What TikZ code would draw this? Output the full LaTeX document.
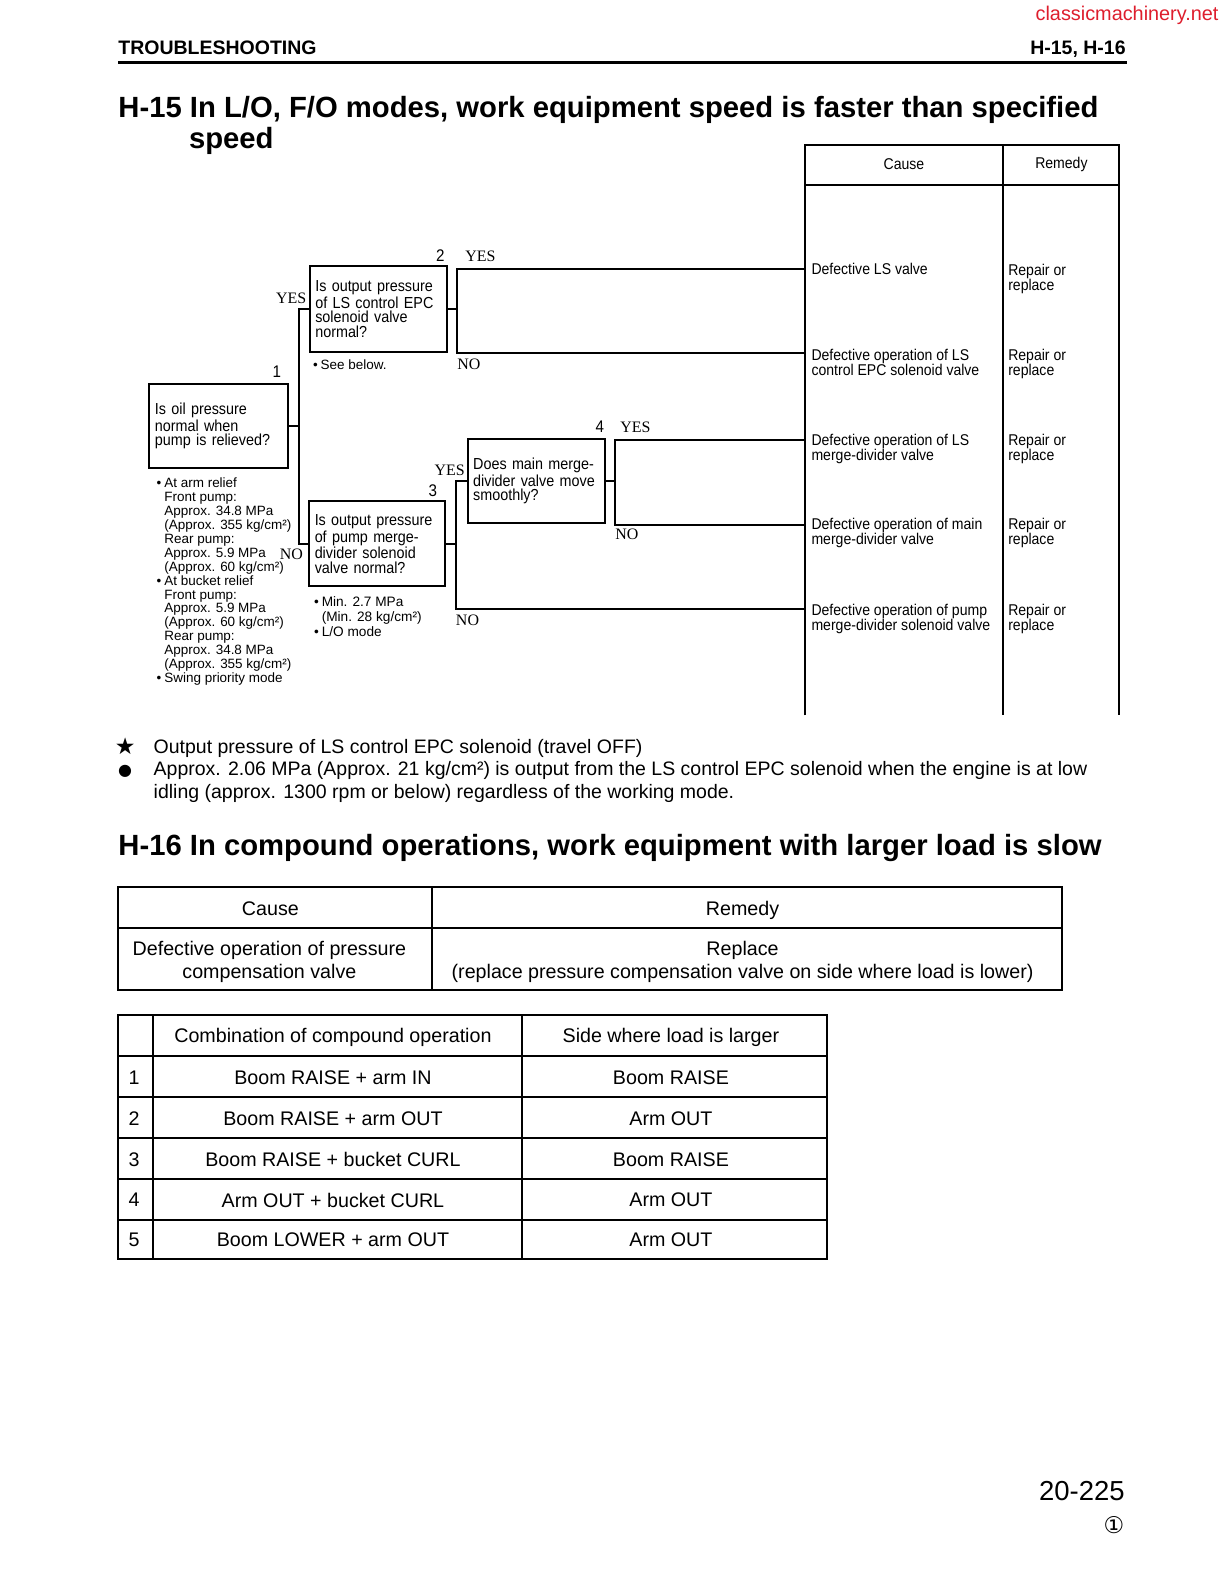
\documentclass[tikz,border=0pt]{standalone}
\usepackage{fontspec}
\setmainfont{Liberation Sans}
\newfontfamily\ynfont{Liberation Serif}
\newfontfamily\flowfont[FakeStretch=0.9]{Liberation Sans}
\newfontfamily\symfont{DejaVu Sans}
\definecolor{sitered}{RGB}{222,30,45}

\newcommand{\qbul}{\makebox[4.3pt][l]{\textbullet}}
\newcommand{\qind}{\hspace*{4.3pt}}

\tikzset{
  qbox/.style={draw, line width=1.1pt, inner xsep=0.11cm, inner ysep=0pt, align=left,
    font=\flowfont\fontsize{9}{8.1}\selectfont},
  yn/.style={font=\ynfont\fontsize{9}{9}\selectfont, inner sep=0pt},
  qnum/.style={font=\flowfont\fontsize{9.5}{9.5}\selectfont, inner sep=0pt, anchor=base east},
  qnote/.style={font=\fontsize{7.6}{7.86}\selectfont, align=left, inner sep=0pt, anchor=base west},
  cause/.style={font=\flowfont\fontsize{8.8}{8.5}\selectfont, align=left, inner sep=0pt, anchor=base west},
  link/.style={line width=1.2pt},
  rule/.style={line width=1.1pt},
  cell/.style={font=\fontsize{11.1}{13}\selectfont, align=center, inner sep=0pt},
}

\begin{document}
\begin{tikzpicture}[x=0.02cm, y=-0.02cm]
    \path[fill=white, use as bounding box] (0,0) rectangle (1217,1568);

    % Page header
    \node[anchor=base east, text=sitered, font=\fontsize{11.2}{12}\selectfont, inner sep=0pt] (site) at (1208,20) {classicmachinery.net};
    \node[anchor=base west, font=\bfseries\fontsize{11}{12}\selectfont, inner sep=0pt] (sect) at (117,54) {TROUBLESHOOTING};
    \node[anchor=base east, font=\bfseries\fontsize{11}{12}\selectfont, inner sep=0pt] (sectno) at (1116,54) {H-15, H-16};
    \draw[line width=2pt] (117,62) -- (1117,62);

    % H-15 title
    \node[anchor=base west, font=\bfseries\fontsize{16.5}{20}\selectfont, inner sep=0pt] (t15) at (117,116) {H-15 In L/O, F/O modes, work equipment speed is faster than specified};
    \node[anchor=base west, font=\bfseries\fontsize{16.5}{20}\selectfont, inner sep=0pt] (t15b) at (187,147) {speed};

    % Questions
    \node[qbox, text width=2.52cm, minimum height=1.66cm] (q1) at (216.5,422.5) {Is oil pressure\\normal when\\pump is relieved?};
    \node[qbox, text width=2.50cm, minimum height=1.70cm] (q2) at (375,306.5) {Is output pressure\\of LS control EPC\\solenoid valve\\normal?};
    \node[qbox, text width=2.47cm, minimum height=1.68cm] (q3) at (373.7,539) {Is output pressure\\of pump merge-\\divider solenoid\\valve normal?};
    \node[qbox, text width=2.50cm, minimum height=1.67cm] (q4) at (531.5,476.8) {Does main merge-\\divider valve move\\smoothly?};

    % Question numbers
    \node[qnum] (n1) at (279,374) {1};
    \node[qnum] (n2) at (441,259.6) {2};
    \node[qnum] (n3) at (433.5,492) {3};
    \node[qnum] (n4) at (599,428.8) {4};

    % YES / NO
    \node[yn, anchor=base east] (y1) at (304,300.6) {YES};
    \node[yn, anchor=base east] (no1) at (300.5,555) {NO};
    \node[yn, anchor=base west] (y2) at (461,259.6) {YES};
    \node[yn, anchor=base west] (no2) at (453,366.7) {NO};
    \node[yn, anchor=base east] (y3) at (461,470.8) {YES};
    \node[yn, anchor=base west] (no3) at (451.6,620) {NO};
    \node[yn, anchor=base west] (y4) at (614.5,428.8) {YES};
    \node[yn, anchor=base west] (no4) at (609.5,535) {NO};

    % Notes under the questions (base = last line)
    \node[qnote] (m1) at (155,676.6) {\qbul At arm relief\\
      \qind Front pump:\\
      \qind Approx. 34.8 MPa\\
      \qind (Approx. 355 kg/cm²)\\
      \qind Rear pump:\\
      \qind Approx. 5.9 MPa\\
      \qind (Approx. 60 kg/cm²)\\
      \qbul At bucket relief\\
      \qind Front pump:\\
      \qind Approx. 5.9 MPa\\
      \qind (Approx. 60 kg/cm²)\\
      \qind Rear pump:\\
      \qind Approx. 34.8 MPa\\
      \qind (Approx. 355 kg/cm²)\\
      \qbul Swing priority mode};
    \node[qnote] (m2) at (310,366) {\qbul See below.};
    \node[qnote, font=\fontsize{7.7}{8.4}\selectfont] (m3) at (311,630.5) {\qbul Min. 2.7 MPa\\\qind (Min. 28 kg/cm²)\\\qbul L/O mode};

    % Cause / remedy table
    \draw[rule] (798,709) -- (798,144) -- (1109,144) -- (1109,709);
    \draw[rule] (994,144) -- (994,709);
    \draw[rule] (798,183) -- (1109,183);
    \node[cause, anchor=center] (hc) at (896,163) {Cause};
    \node[cause, anchor=center] (hr) at (1052,163) {Remedy};
    \node[cause] (c1) at (804,272.5) {Defective LS valve};
    \node[cause] (c2) at (804,372) {Defective operation of LS\\control EPC solenoid valve};
    \node[cause] (c3) at (804,456) {Defective operation of LS\\merge-divider valve};
    \node[cause] (c4) at (804,540) {Defective operation of main\\merge-divider valve};
    \node[cause] (c5) at (804,624.5) {Defective operation of pump\\merge-divider solenoid valve};
    \node[cause] (r1) at (999,287.5) {Repair or\\replace};
    \node[cause] (r2) at (999,372) {Repair or\\replace};
    \node[cause] (r3) at (999,456) {Repair or\\replace};
    \node[cause] (r4) at (999,540) {Repair or\\replace};
    \node[cause] (r5) at (999,624.5) {Repair or\\replace};

    % Connectors
    \coordinate (b1) at (296.5,0);
    \coordinate (b2) at (452.6,0);
    \coordinate (b3) at (452,0);
    \coordinate (b4) at (609.5,0);
    \coordinate (e1) at (798,267);
    \coordinate (e2) at (798,350);
    \coordinate (e3) at (798,436);
    \coordinate (e4) at (798,520);
    \coordinate (e5) at (798,604);
    \draw[link] (q1.east) -- (q1.east -| b1);
    \draw[link] (q2.west) -| (b1 |- q3.west) -- (q3.west);
    \draw[link] (q2.east) -- (q2.east -| b2);
    \draw[link] (e1) -| (b2 |- e2) -- (e2);
    \draw[link] (q3.east) -- (q3.east -| b3);
    \draw[link] (q4.west) -| (b3 |- e5) -- (e5);
    \draw[link] (q4.east) -- (q4.east -| b4);
    \draw[link] (e3) -| (b4 |- e4) -- (e4);

    % Notes below the chart
    \node[anchor=base, font=\symfont\fontsize{13}{13}\selectfont, inner sep=0pt] (star) at (124,747.5) {★};
    \node[anchor=base, font=\symfont\fontsize{9}{9}\selectfont, inner sep=0pt] (dot) at (124,769) {●};
    \node[anchor=base west, font=\fontsize{11}{12.8}\selectfont, inner sep=0pt] (tip1) at (152,746.6) {Output pressure of LS control EPC solenoid (travel OFF)};
    \node[anchor=base west, font=\fontsize{11}{12.8}\selectfont, align=left, inner sep=0pt] (tip2) at (152,791.6) {Approx. 2.06 MPa (Approx. 21 kg/cm²) is output from the LS control EPC solenoid when the engine is at low\\idling (approx. 1300 rpm or below) regardless of the working mode.};

    % H-16 title
    \node[anchor=base west, font=\bfseries\fontsize{16.5}{20}\selectfont, inner sep=0pt] (t16) at (117,848.4) {H-16 In compound operations, work equipment with larger load is slow};

    % H-16 cause table
    \draw[rule] (117,879) rectangle (1053,981);
    \draw[rule] (117,920) -- (1053,920);
    \draw[rule] (428,879) -- (428,981);
    \node[cell] (tc) at (268,901) {Cause};
    \node[cell] (tr) at (736,902) {Remedy};
    \node[cell] (tc1) at (267,953) {Defective operation of pressure\\compensation valve};
    \node[cell] (tr1) at (736,953) {Replace\\(replace pressure compensation valve on side where load is lower)};

    % Compound operation table
    \draw[rule] (117,1006) rectangle (820,1248);
    \draw[rule] (152,1006) -- (152,1248) (517,1006) -- (517,1248);
    \draw[rule] (117,1047) -- (820,1047) (117,1087.5) -- (820,1087.5) (117,1128) -- (820,1128)
                (117,1168.5) -- (820,1168.5) (117,1209) -- (820,1209);
    \node[cell] (k1) at (330,1028) {Combination of compound operation};
    \node[cell] (s1) at (665,1028) {Side where load is larger};
    \node[cell] (i1) at (133,1068) {1};
    \node[cell] (k2) at (330,1068) {Boom RAISE + arm IN};
    \node[cell] (s2) at (665,1068) {Boom RAISE};
    \node[cell] (i2) at (133,1108.5) {2};
    \node[cell] (k3) at (330,1108.5) {Boom RAISE + arm OUT};
    \node[cell] (s3) at (665,1108.5) {Arm OUT};
    \node[cell] (i3) at (133,1149) {3};
    \node[cell] (k4) at (330,1149) {Boom RAISE + bucket CURL};
    \node[cell] (s4) at (665,1149) {Boom RAISE};
    \node[cell] (i4) at (133,1189.5) {4};
    \node[cell] (k5) at (330,1189.5) {Arm OUT + bucket CURL};
    \node[cell] (s5) at (665,1189.5) {Arm OUT};
    \node[cell] (i5) at (133,1229) {5};
    \node[cell] (k6) at (330,1229) {Boom LOWER + arm OUT};
    \node[cell] (s6) at (665,1229) {Arm OUT};

    % Page number
    \node[anchor=base east, font=\fontsize{15.5}{16}\selectfont, inner sep=0pt] (pgno) at (1115,1487) {20-225};
    \node[font=\symfont\fontsize{13}{13}\selectfont, inner sep=0pt] (rev) at (1104,1512) {①};
\end{tikzpicture}
\end{document}
